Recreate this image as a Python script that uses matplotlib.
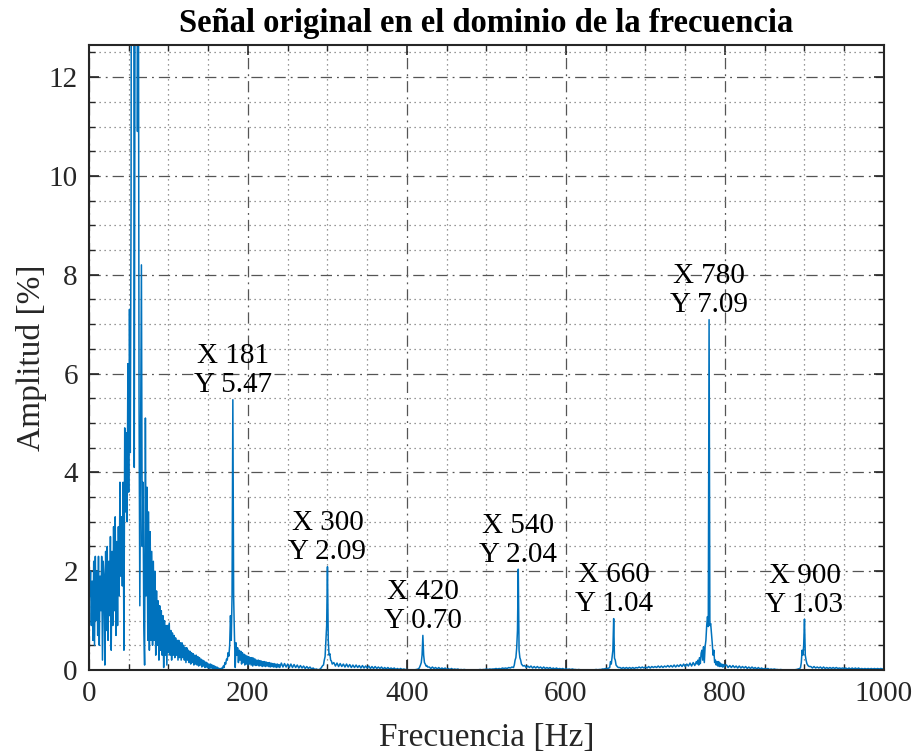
import numpy as np
import matplotlib
matplotlib.use("Agg")
import matplotlib.pyplot as plt
from matplotlib.ticker import MultipleLocator

plt.rcParams['font.family'] = ['Liberation Serif', 'DejaVu Serif']

# espectro 0..150 Hz (paso 1 Hz)
amp_0_150 = [
    2.1, 1.5, 2.0, 0.9, 1.8, 0.6, 2.2, 0.5, 2.3, 1.0,
    2.0, 0.7, 2.3, 0.5, 1.9, 1.2, 2.3, 0.2, 2.2, 1.9,
    0.1, 2.4, 0.8, 2.5, 0.6, 2.2, 1.1, 2.7, 0.4, 2.4,
    0.9, 2.9, 1.2, 3.1, 0.7, 2.6, 0.9, 2.9, 1.5, 3.8,
    1.9, 3.1, 1.7, 3.8, 0.4, 4.9, 3.2, 4.8, 3.0, 6.2,
    3.6, 7.3, 4.4, 9.5, 28.0, 45.0, 22.0, 4.1, 14.0, 24.0,
    30.0, 10.9, 17.0, 5.5, 1.3, 5.0, 8.2, 2.5, 3.8, 0.9,
    0.1, 5.1, 1.5, 3.7, 0.6, 3.2, 0.4, 2.8, 0.6, 2.4,
    0.5, 2.2, 0.6, 2.0, 0.3, 1.6, 0.5, 1.4, 0.2, 1.3,
    0.4, 1.2, 0.3, 1.1, 0.05, 1.0, 0.3, 0.9, 0.1, 0.9,
    0.35, 0.95, 0.3, 0.8, 0.2, 0.75, 0.3, 0.7, 0.25, 0.65,
    0.3, 0.6, 0.2, 0.6, 0.25, 0.55, 0.2, 0.55, 0.25, 0.5,
    0.2, 0.45, 0.15, 0.45, 0.2, 0.4, 0.15, 0.38, 0.12, 0.35,
    0.15, 0.33, 0.1, 0.3, 0.12, 0.3, 0.1, 0.27, 0.08, 0.25,
    0.1, 0.22, 0.06, 0.2, 0.08, 0.18, 0.05, 0.16, 0.06, 0.14,
    0.04,
]

# 151..240 Hz (paso 1 Hz), incluye el pico de 181 Hz
amp_151_240 = [
    0.12, 0.03, 0.12, 0.04, 0.1, 0.02, 0.09, 0.03, 0.07, 0.01,
    0.06, 0.02, 0.04, 0.01, 0.03, 0.01, 0.04, 0.02, 0.08, 0.05,
    0.15, 0.12, 0.22, 0.2, 0.35, 0.28, 0.5, 1.1, 0.6, 1.5,
    5.47, 1.48, 0.7, 0.05, 0.55, 0.3, 0.45, 0.15, 0.4, 0.2,
    0.38, 0.12, 0.35, 0.15, 0.32, 0.1, 0.3, 0.12, 0.28, 0.1,
    0.27, 0.12, 0.25, 0.1, 0.25, 0.08, 0.24, 0.1, 0.22, 0.09,
    0.2, 0.1, 0.2, 0.08, 0.19, 0.09, 0.18, 0.07, 0.17, 0.08,
    0.17, 0.07, 0.16, 0.08, 0.15, 0.07, 0.15, 0.06, 0.14, 0.07,
    0.13, 0.06, 0.13, 0.06, 0.12, 0.05, 0.12, 0.06, 0.11, 0.05,
]

# 242..294 Hz (paso 2 Hz)
amp_242_294 = [
    0.14, 0.06, 0.13, 0.06, 0.12, 0.05, 0.12, 0.05, 0.11, 0.05,
    0.1, 0.04, 0.09, 0.04, 0.08, 0.03, 0.07, 0.03, 0.06, 0.02,
    0.04, 0.01, 0.02, 0.005, 0.01, 0.04, 0.09,
]

# pico 300 Hz: 295..306 (paso 1 Hz)
amp_295_306 = [0.1, 0.2, 0.27, 0.6, 0.9, 2.09, 0.6, 0.3, 0.33, 0.2, 0.18, 0.12]

# 308..414 Hz (paso 2 Hz)
amp_308_414 = [
    0.15, 0.08, 0.14, 0.07, 0.13, 0.07, 0.12, 0.06, 0.12, 0.06,
    0.11, 0.05, 0.1, 0.05, 0.1, 0.05, 0.09, 0.04, 0.09, 0.04,
    0.08, 0.04, 0.08, 0.03, 0.07, 0.03, 0.07, 0.03, 0.06, 0.03,
    0.06, 0.02, 0.05, 0.02, 0.05, 0.02, 0.04, 0.02, 0.04, 0.01,
    0.03, 0.01, 0.03, 0.01, 0.02, 0.01, 0.01, 0.005, 0.005, 0.005,
    0.005, 0.005, 0.01, 0.02,
]

# pico 420 Hz: 415..426
amp_415_426 = [0.03, 0.06, 0.1, 0.15, 0.3, 0.70, 0.3, 0.15, 0.12, 0.08, 0.09, 0.06]

# 428..534 Hz (paso 2 Hz)
amp_428_534 = [
    0.06, 0.03, 0.06, 0.03, 0.05, 0.02, 0.05, 0.02, 0.04, 0.02,
    0.04, 0.01, 0.03, 0.01, 0.03, 0.01, 0.02, 0.01, 0.02, 0.005,
    0.01, 0.005, 0.01, 0.005, 0.005, 0.005, 0.005, 0.005, 0.005, 0.005,
    0.005, 0.005, 0.01, 0.005, 0.01, 0.01, 0.02, 0.01, 0.02, 0.015,
    0.02, 0.02, 0.03, 0.02, 0.03, 0.02, 0.04, 0.03, 0.04, 0.03,
    0.05, 0.04, 0.06, 0.05,
]

# pico 540 Hz: 535..546
amp_535_546 = [0.1, 0.2, 0.25, 0.44, 0.8, 2.04, 0.4, 0.25, 0.2, 0.12, 0.1, 0.08]

# 548..654 Hz (paso 2 Hz)
amp_548_654 = [
    0.09, 0.05, 0.08, 0.05, 0.08, 0.04, 0.07, 0.04, 0.07, 0.04,
    0.06, 0.03, 0.06, 0.03, 0.05, 0.03, 0.05, 0.02, 0.04, 0.02,
    0.04, 0.02, 0.03, 0.02, 0.03, 0.01, 0.03, 0.01, 0.02, 0.01,
    0.02, 0.01, 0.01, 0.005, 0.01, 0.005, 0.005, 0.005, 0.005, 0.005,
    0.005, 0.005, 0.005, 0.005, 0.005, 0.01, 0.005, 0.01, 0.01, 0.02,
    0.02, 0.03, 0.03, 0.04,
]

# pico 660 Hz: 655..666
amp_655_666 = [0.05, 0.17, 0.12, 0.27, 0.4, 1.04, 0.24, 0.2, 0.1, 0.08, 0.06, 0.05]

# 668..764 Hz (paso 2 Hz)
amp_668_764 = [
    0.05, 0.03, 0.05, 0.03, 0.05, 0.03, 0.05, 0.03, 0.05, 0.03,
    0.05, 0.04, 0.06, 0.04, 0.06, 0.04, 0.06, 0.04, 0.07, 0.04,
    0.07, 0.05, 0.07, 0.05, 0.08, 0.05, 0.08, 0.05, 0.08, 0.06,
    0.09, 0.06, 0.09, 0.06, 0.1, 0.06, 0.1, 0.07, 0.11, 0.07,
    0.12, 0.07, 0.12, 0.08, 0.14, 0.08, 0.15, 0.09, 0.17,
]

# pico 780 Hz: 765..800 (paso 1 Hz)
amp_765_800 = [
    0.12, 0.2, 0.1, 0.25, 0.13, 0.34, 0.4, 0.2, 0.47, 0.15,
    0.47, 0.6, 0.9, 1.08, 0.88, 7.09, 0.9, 0.94, 0.74, 0.54,
    0.3, 0.4, 0.15, 0.2, 0.1, 0.17, 0.08, 0.17, 0.07, 0.14,
    0.07, 0.12, 0.06, 0.11, 0.06, 0.1,
]

# 802..894 Hz (paso 2 Hz)
amp_802_894 = [
    0.1, 0.05, 0.09, 0.05, 0.09, 0.05, 0.08, 0.04, 0.08, 0.04,
    0.07, 0.04, 0.07, 0.03, 0.06, 0.03, 0.06, 0.03, 0.05, 0.02,
    0.05, 0.02, 0.04, 0.02, 0.03, 0.02, 0.03, 0.01, 0.02, 0.01,
    0.02, 0.01, 0.01, 0.005, 0.01, 0.005, 0.005, 0.005, 0.005, 0.005,
    0.005, 0.005, 0.005, 0.005, 0.01, 0.02, 0.03,
]

# pico 900 Hz: 895..906
amp_895_906 = [0.05, 0.15, 0.4, 0.3, 0.5, 1.03, 0.3, 0.2, 0.13, 0.1, 0.08, 0.07]

# 908..1000 Hz (paso 2 Hz)
amp_908_1000 = [
    0.07, 0.04, 0.07, 0.04, 0.06, 0.04, 0.06, 0.03, 0.06, 0.03,
    0.05, 0.03, 0.05, 0.03, 0.05, 0.03, 0.05, 0.03, 0.04, 0.03,
    0.04, 0.03, 0.04, 0.02, 0.04, 0.02, 0.04, 0.02, 0.04, 0.02,
    0.04, 0.02, 0.03, 0.02, 0.03, 0.02, 0.03, 0.02, 0.03, 0.02,
    0.03, 0.02, 0.03, 0.02, 0.03, 0.02, 0.03,
]

# data tips
tip_freq = [181, 300, 420, 540, 660, 780, 900]
tip_amp = [5.47, 2.09, 0.70, 2.04, 1.04, 7.09, 1.03]

# (inicio, paso, valores)
segments = [
    (0, 1, amp_0_150), (151, 1, amp_151_240), (242, 2, amp_242_294),
    (295, 1, amp_295_306), (308, 2, amp_308_414), (415, 1, amp_415_426),
    (428, 2, amp_428_534), (535, 1, amp_535_546), (548, 2, amp_548_654),
    (655, 1, amp_655_666), (668, 2, amp_668_764), (765, 1, amp_765_800),
    (802, 2, amp_802_894), (895, 1, amp_895_906), (908, 2, amp_908_1000),
]
f = np.concatenate([s + d * np.arange(len(v)) for s, d, v in segments])
P1 = np.concatenate([v for s, d, v in segments])

fig = plt.figure(figsize=(9.17, 7.55), dpi=100)
ax = fig.add_axes([0.097, 0.1126, 0.867, 0.8278])
ax.plot(f, P1, color='#0072BD', lw=1.1)

ax.set_xlim(0, 1000)
ax.set_ylim(0, 12.65)
ax.xaxis.set_major_locator(MultipleLocator(200))
ax.xaxis.set_minor_locator(MultipleLocator(50))
ax.yaxis.set_major_locator(MultipleLocator(2))
ax.yaxis.set_minor_locator(MultipleLocator(0.5))
ax.grid(which='major', color='#555555', linestyle=(0, (9, 4, 1.5, 4)), lw=0.9)
ax.grid(which='minor', color='#777777', linestyle=(0, (1, 3)), lw=0.9)
ax.set_axisbelow(True)
ax.tick_params(which='both', direction='in', top=True, right=True,
               labelsize=21, colors='#262626', labelcolor='#262626')
ax.tick_params(which='major', length=7, width=1.2, pad=8)
ax.tick_params(which='minor', length=4, width=1.0)
for sp in ax.spines.values():
    sp.set_linewidth(1.5)
    sp.set_color('#262626')

for fx, ay in zip(tip_freq, tip_amp):
    ax.annotate(f"X {fx}\nY {ay:.2f}", xy=(fx, ay), xytext=(0, 1),
                textcoords='offset points', ha='center', va='bottom',
                fontsize=21, linespacing=1.15, color='black')

ax.set_xlabel('Frecuencia [Hz]', fontsize=24, color='#262626', labelpad=11)
ax.set_ylabel('Amplitud [%]', fontsize=24, color='#262626', labelpad=1)
ax.set_title('Señal original en el dominio de la frecuencia', fontsize=23.5,
             fontweight='bold', pad=9)

fig.savefig('out.png', dpi=100)
